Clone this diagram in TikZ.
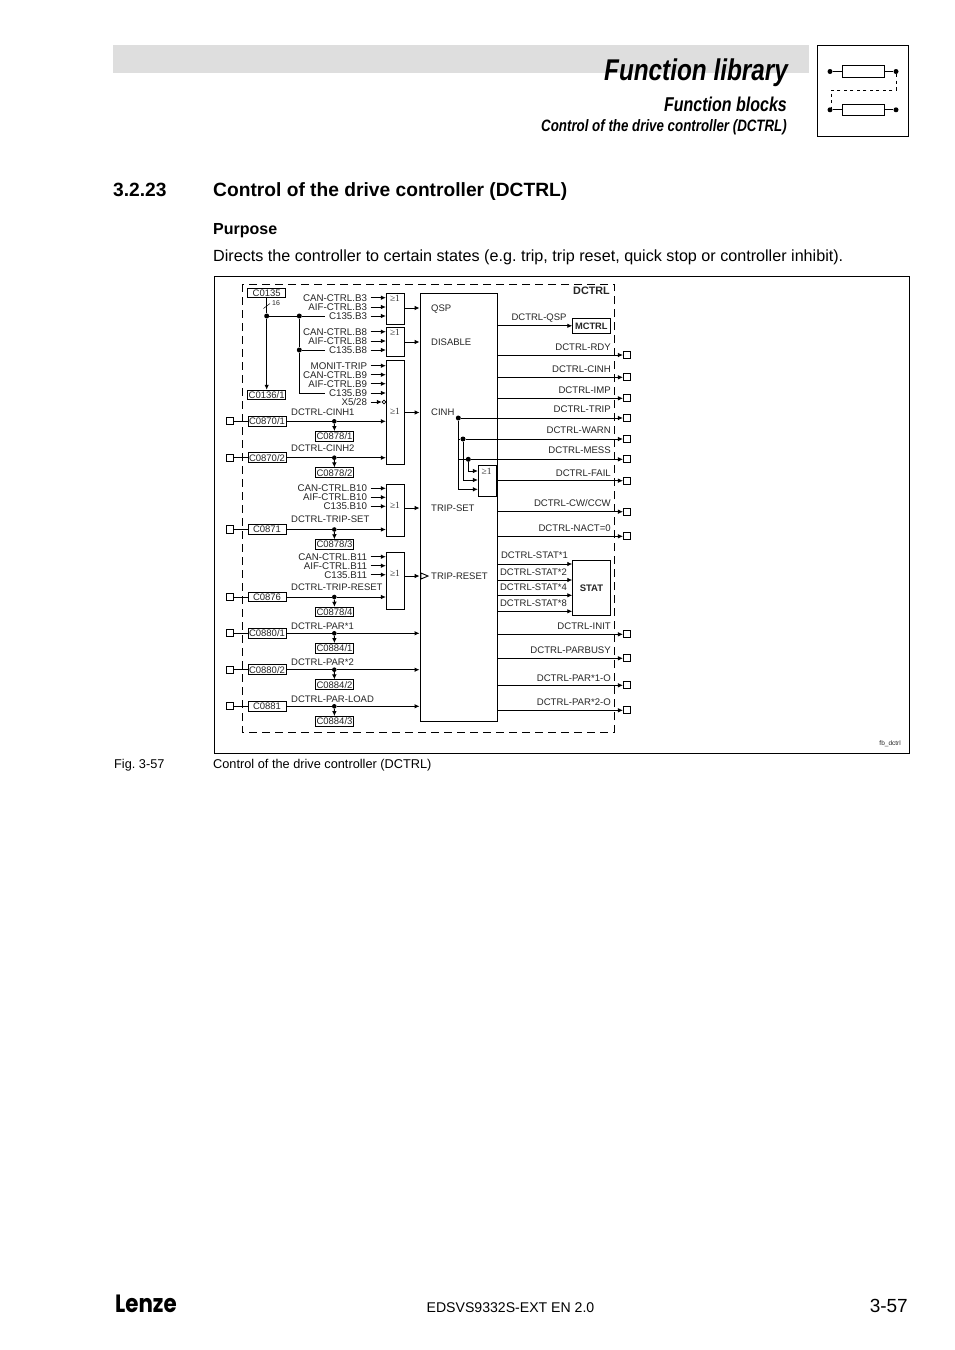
\documentclass[tikz,border=0pt]{standalone}
\usepackage{fontspec}
\setmainfont{Liberation Sans}
\newfontfamily\serifsym{Liberation Serif}
\newfontfamily\logofont{Poppins}
\usetikzlibrary{arrows.meta}
\newcommand\fsz[1]{\fontsize{#1}{#1}\selectfont}
\newcommand\squeeze[2]{\scalebox{#1}[1]{#2}}
\frenchspacing
\tikzset{
  x=1pt,y=-1pt,
  lin/.style={line width=0.9pt,black},
  arr/.style={lin,-{Latex[length=5pt,width=4.6pt]}},
  txt/.style={inner sep=0pt,font=\fsz{9.5},text height=6.8pt,text depth=0pt,text=black!85},
  page/.style={inner sep=0pt,text=black},
  bx/.style={draw,line width=0.9pt,inner sep=0pt,font=\fsz{9.5},text=black!85},
  code/.style={bx,minimum width=38pt,minimum height=9.6pt},
  sq/.style={draw,line width=0.9pt,inner sep=0pt,minimum size=7.2pt},
  dot/.style={circle,fill=black,inner sep=0pt,minimum size=5pt},
  ge/.style={inner sep=0pt,font=\serifsym\fsz{9.5},text=black!80},
}
% name, x1, y1, x2, y2, text
\newcommand\bxn[6]{\node[bx,minimum width={(#4-#2)*1pt},minimum height={(#5-#3)*1pt}] (#1) at ({(#2+#4)/2},{(#3+#5)/2}) {#6};}
% id, y, code, signal, sub code, target, signal label offset
\newcommand\inrow[7]{%
  \node[sq] (sq#1) at (230,#2) {};
  \node[code] (c#1) at (267,#2) {#3};
  \node[txt,anchor=west] (s#1) at (291,{#2-#7}) {#4};
  \node[dot,minimum size=4.6pt] (d#1) at (334.3,#2) {};
  \node[code] (r#1) at (334.5,{#2+15}) {#5};
  \draw[lin] (sq#1) -- (c#1);
  \draw[lin] (c#1) -- (d#1);
  \draw[arr] (d#1) -- (r#1);
  \draw[arr] (d#1) -- (#6.west |- d#1);
}
% id, y, text, text y
\newcommand\outsq[4]{%
  \node[sq] (o#1) at (627,#2) {};
  \node[txt,anchor=east,font=\fsz{9.6}] (ot#1) at (611,#4) {#3};
}
% id, y, text, source node
\newcommand\inarrow[4]{%
  \node[txt,anchor=east,inner xsep=3.5pt,font=\fsz{9.75}] (t#1) at (370.7,#2) {#3};
  \draw[arr] (t#1.east) -- (t#1.east -| #4.west);
}
\begin{document}
\begin{tikzpicture}
\useasboundingbox (0,0) rectangle (954,1350);
\fill[white] (0,0) rectangle (954,1350);
% header
\fill[black!13] (113,45) rectangle (809,73);
\node[page,anchor=base east,font=\fsz{30}\bfseries\itshape] (title) at (788,80.5) {\squeeze{0.81}{Function library}};
\node[page,anchor=base east,font=\fsz{20}\bfseries\itshape] (sub1) at (787,111.5) {\squeeze{0.80}{Function blocks}};
\node[page,anchor=base east,font=\fsz{16.5}\bfseries\itshape] (sub2) at (787,131.5) {\squeeze{0.807}{Control of the drive controller (DCTRL)}};
% icon
\node[draw,line width=0.9pt,inner sep=0pt,minimum width=91.4pt,minimum height=90.7pt] (icon) at (863,90.6) {};
\node[draw,line width=0.8pt,inner sep=0pt,minimum width=42pt,minimum height=11.6pt] (ic1) at (863.7,71.5) {};
\node[draw,line width=0.8pt,inner sep=0pt,minimum width=42pt,minimum height=11.6pt] (ic2) at (863.7,109.8) {};
\node[dot] (ia) at (830,71.5) {};
\node[dot] (ib) at (896,71.5) {};
\node[dot] (ic) at (830,109.8) {};
\node[dot] (id) at (896,109.8) {};
\draw[line width=1.6pt] (ia) -- (ic1);
\draw[line width=1.6pt] (ic1) -- (ib);
\draw[lin] (ic) -- (ic2);
\draw[lin] (ic2) -- (id);
\coordinate (ie) at (896,90);
\coordinate (if) at (831,90);
\draw[lin,dash pattern=on 3pt off 3.5pt] (ib) -- (ie) -- (if) -- (if |- ic);
% headings
\node[page,anchor=base west,font=\fsz{19.2}\bfseries] (hn) at (113,196) {3.2.23};
\node[page,anchor=base west,font=\fsz{19.2}\bfseries] (ht) at (213,196) {Control of the drive controller (DCTRL)};
\node[page,anchor=base west,font=\fsz{16}\bfseries] (pp) at (213,234) {Purpose};
\node[page,anchor=base west,font=\fsz{16.15}] (pt) at (213,261) {Directs the controller to certain states (e.g. trip, trip reset, quick stop or controller inhibit).};
% frame
\node[draw,line width=0.9pt,inner sep=0pt,minimum width=695pt,minimum height=477pt] (frame) at (561.5,514.5) {};
\draw[lin,dash pattern=on 8pt off 5pt] (242,284) rectangle (614,732);
\node[txt,anchor=east,font=\fsz{10.8}\bfseries] (dctrl) at (610,291) {DCTRL};
% main block
\node[draw,line width=0.9pt,inner sep=0pt,minimum width=77pt,minimum height=428pt] (main) at (458.5,507) {};
\node[txt,anchor=west] (lq) at (431,308) {QSP};
\node[txt,anchor=west] (ld) at (431,342) {DISABLE};
\node[txt,anchor=west] (lc) at (431,412.5) {CINH};
\node[txt,anchor=west] (ls) at (431,508) {TRIP-SET};
\node[txt,anchor=west] (lr) at (431,576) {TRIP-RESET};
% or gates
\bxn{b1}{386.3}{293}{404.7}{324.7}{}
\bxn{b2}{386.3}{327}{404.7}{356.7}{}
\bxn{b3}{386.3}{360.3}{404.7}{464.3}{}
\bxn{b4}{386.3}{484.3}{404.7}{536.3}{}
\bxn{b5}{386.3}{552.3}{404.7}{609.3}{}
\node[ge] (g1) at (395,298) {≥1};
\node[ge] (g2) at (395,332) {≥1};
\node[ge] (g3) at (395,411) {≥1};
\node[ge] (g4) at (395,505.7) {≥1};
\node[ge] (g5) at (395,573.3) {≥1};
\draw[arr] (b1.east |- lq) -- (main.west |- lq);
\draw[arr] (b2.east |- ld) -- (main.west |- ld);
\draw[arr] (b3.east |- lc) -- (main.west |- lc);
\draw[arr] (b4.east |- ls) -- (main.west |- ls);
\draw[arr] (b5.east |- lr) -- (main.west |- lr);
\draw[lin] (421,573) -- (428,576) -- (421,579) -- cycle;
% C0135 bus
\node[code] (c135) at (266.7,293) {C0135};
\node[code] (c136) at (266.7,395) {C0136/1};
\node[dot] (bd1) at (266.7,316) {};
\node[dot] (bd2) at (299.3,316) {};
\node[dot] (bd3) at (299.3,350) {};
\coordinate (bd4) at (299.3,393);
\draw[lin] (c135) -- (bd1);
\draw[arr] (bd1) -- (c136);
\draw[lin] (bd1) -- (bd2);
\draw[lin] (bd2) -- (bd3);
\draw[lin] (bd3) -- (bd4);
\node[inner sep=0pt,font=\fsz{7},text=black!85] (n16) at (276,303) {16};
\coordinate (tk1) at (263.5,308.5);
\coordinate (tk2) at (270,303.5);
\draw[line width=0.5pt] (tk1) -- (tk2);
% inputs to gates
\inarrow{a1}{297.7}{CAN-CTRL.B3}{b1}
\inarrow{a2}{307}{AIF-CTRL.B3}{b1}
\inarrow{a3}{316}{C135.B3}{b1}
\inarrow{a4}{331.7}{CAN-CTRL.B8}{b2}
\inarrow{a5}{341}{AIF-CTRL.B8}{b2}
\inarrow{a6}{350}{C135.B8}{b2}
\inarrow{a7}{365.7}{MONIT-TRIP}{b3}
\inarrow{a8}{374.7}{CAN-CTRL.B9}{b3}
\inarrow{a9}{383.7}{AIF-CTRL.B9}{b3}
\inarrow{a10}{393}{C135.B9}{b3}
\node[txt,anchor=east,inner xsep=3.5pt,font=\fsz{9.75}] (ta11) at (370.7,402) {X5/28};
\node[draw,circle,line width=0.7pt,inner sep=0pt,minimum size=3.8pt] (inv) at (384,402) {};
\draw[arr] (ta11.east) -- (inv);
\inarrow{a12}{488.3}{CAN-CTRL.B10}{b4}
\inarrow{a13}{497.3}{AIF-CTRL.B10}{b4}
\inarrow{a14}{506.3}{C135.B10}{b4}
\inarrow{a15}{556.7}{CAN-CTRL.B11}{b5}
\inarrow{a16}{565.7}{AIF-CTRL.B11}{b5}
\inarrow{a17}{574.7}{C135.B11}{b5}
\draw[lin] (bd2) -- (ta3.west);
\draw[lin] (bd3) -- (ta6.west);
\draw[lin] (bd4) -- (ta10.west);
% parameter rows
\inrow{i1}{421.3}{C0870/1}{DCTRL-CINH1}{C0878/1}{b3}{9}
\inrow{i2}{457.7}{C0870/2}{DCTRL-CINH2}{C0878/2}{b3}{9.4}
\inrow{i3}{529.5}{C0871}{DCTRL-TRIP-SET}{C0878/3}{b4}{10.7}
\inrow{i4}{597}{C0876}{DCTRL-TRIP-RESET}{C0878/4}{b5}{9.7}
\inrow{i5}{633.3}{C0880/1}{DCTRL-PAR*1}{C0884/1}{main}{7.6}
\inrow{i6}{669.7}{C0880/2}{DCTRL-PAR*2}{C0884/2}{main}{7.4}
\inrow{i7}{706.3}{C0881}{DCTRL-PAR-LOAD}{C0884/3}{main}{7.6}
% MCTRL
\bxn{mc}{572.7}{318.3}{610}{333.3}{\fsz{9.3}\bfseries MCTRL}
\draw[arr] (main.east |- mc) -- (mc);
\node[txt,anchor=east] (tq) at (566.7,316.7) {DCTRL-QSP};
% outputs
\outsq{a}{355}{DCTRL-RDY}{346.7}
\outsq{b}{377.3}{DCTRL-CINH}{369.3}
\outsq{c}{398.3}{DCTRL-IMP}{390}
\outsq{d}{418}{DCTRL-TRIP}{409.3}
\outsq{e}{439}{DCTRL-WARN}{430.3}
\outsq{f}{459.3}{DCTRL-MESS}{450.3}
\outsq{g}{480.7}{DCTRL-FAIL}{472.7}
\outsq{h}{511.7}{DCTRL-CW/CCW}{503.3}
\outsq{i}{536.3}{DCTRL-NACT=0}{528.3}
\outsq{j}{634.3}{DCTRL-INIT}{626}
\outsq{k}{658.3}{DCTRL-PARBUSY}{649.7}
\outsq{l}{685.3}{DCTRL-PAR*1-O}{677.7}
\outsq{m}{710.3}{DCTRL-PAR*2-O}{702.3}
\foreach \q in {a,b,c,h,i,j,k,l,m} {\draw[arr] (main.east |- o\q) -- (o\q);}
% CINH logic
\bxn{fg}{478.3}{465}{496.3}{496.7}{}
\node[ge] (g6) at (486.7,471.7) {≥1};
\node[dot] (dt) at (458.3,418) {};
\node[dot] (dw) at (463,439) {};
\node[dot] (dm) at (468.3,459.3) {};
\coordinate (f1) at (468.3,471);
\coordinate (f2) at (463,480);
\coordinate (f3) at (458.3,489.3);
\draw[arr] (dt) -- (od);
\draw[lin] (dt |- dw) -- (dw);
\draw[arr] (dw) -- (oe);
\draw[lin] (dt |- dm) -- (dm);
\draw[arr] (dm) -- (of);
\draw[arr] (dt) -- (f3) -- (f3 -| fg.west);
\draw[arr] (dw) -- (f2) -- (f2 -| fg.west);
\draw[arr] (dm) -- (f1) -- (f1 -| fg.west);
\draw[arr] (fg.east |- og) -- (og);
% STAT
\bxn{st}{572.7}{560.7}{610.3}{615}{\fsz{9.5}\bfseries STAT}
\foreach \v/\tx/\ty/\lx in {564/DCTRL-STAT*1/555/568,580/DCTRL-STAT*2/571.7/567,595.3/DCTRL-STAT*4/587.3/567,611.3/DCTRL-STAT*8/603.3/567} {
  \coordinate (stc) at (497,\v);
  \draw[arr] (stc) -- (stc -| st.west);
  \node[txt,anchor=east] at (\lx,\ty) {\tx};
}
\node[inner sep=0pt,anchor=east,font=\fsz{6.5},text=black!85] (fb) at (901,744) {fb\_dctrl};
% caption
\node[page,anchor=base west,font=\fsz{12.75}] (f1l) at (114,768) {Fig. 3-57};
\node[page,anchor=base west,font=\fsz{12.75}] (f2l) at (213,768) {Control of the drive controller (DCTRL)};
% footer
\node[page,anchor=base west,font=\logofont\bfseries\fsz{25}] (lenze) at (115,1312) {\squeeze{0.855}{Lenze}};
\node[page,anchor=base,font=\fsz{14.1}] (ed) at (510.5,1312) {EDSVS9332S-EXT EN 2.0};
\node[page,anchor=base east,font=\fsz{19}] (pg) at (908,1312) {3-57};
\end{tikzpicture}
\end{document}
